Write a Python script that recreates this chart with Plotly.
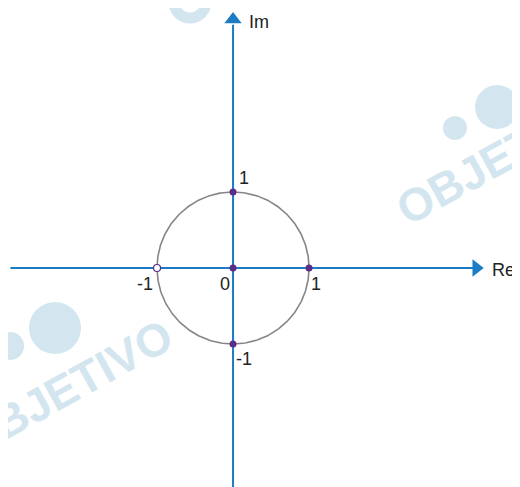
import base64
import numpy as np
import plotly.graph_objects as go

# Data
filled_re = [0, 1, 0, 0]
filled_im = [0, 0, 1, -1]
hollow_re = [-1]
hollow_im = [0]
circle_radius = 1
label_texts = ["1", "0", "1", "-1", "-1"]
label_re = [0, 0, 1, -1, 0]
label_im = [1, 0, 0, 0, -1]

AX = "#1b7cc3"
PUR = "#5a2d87"

x0, x1 = -2.961, 3.776
y0, y1 = -2.882, 3.421

fig = go.Figure()

# axes lines
fig.add_trace(go.Scatter(x=[-2.93, 3.2], y=[0, 0], mode="lines",
                         line=dict(color=AX, width=2), hoverinfo="skip", showlegend=False))
fig.add_trace(go.Scatter(x=[0, 0], y=[y0 - 0.1, 3.2], mode="lines",
                         line=dict(color=AX, width=2), hoverinfo="skip", showlegend=False))
# arrow heads
fig.add_trace(go.Scatter(x=[3.2], y=[0], mode="markers",
                         marker=dict(symbol="triangle-right", size=15, color=AX),
                         hoverinfo="skip", showlegend=False))
fig.add_trace(go.Scatter(x=[0], y=[3.27], mode="markers",
                         marker=dict(symbol="triangle-up", size=15, color=AX),
                         hoverinfo="skip", showlegend=False))

t = np.linspace(0, 2 * np.pi, 361)
fig.add_trace(go.Scatter(x=circle_radius * np.cos(t), y=circle_radius * np.sin(t),
                         mode="lines", line=dict(color="#858585", width=1.6),
                         hoverinfo="skip", showlegend=False))

fig.add_trace(go.Scatter(x=filled_re, y=filled_im, mode="markers",
                         marker=dict(color=PUR, size=7), showlegend=False, hoverinfo="skip"))
fig.add_trace(go.Scatter(x=hollow_re, y=hollow_im, mode="markers",
                         marker=dict(color="white", size=7, line=dict(color=PUR, width=1.2)),
                         showlegend=False, hoverinfo="skip"))

font = dict(family="Liberation Sans, Arial", size=18, color="#222")
offsets = [(11, -14), (-8, 16), (7, 16), (-12, 16), (11, 15)]
for txt, xr, yi, (dx, dy) in zip(label_texts, label_re, label_im, offsets):
    fig.add_annotation(x=xr, y=yi, text=txt, showarrow=False, xshift=dx, yshift=-dy, font=font)

fig.add_annotation(x=0, y=3.274, text="Im", showarrow=False, xanchor="left",
                   xshift=14, yshift=-3, font=dict(family="Liberation Sans, Arial", size=18, color="#222"))
fig.add_annotation(x=3.4, y=0, text="Re", showarrow=False, xanchor="left",
                   xshift=-1, yshift=-2, font=dict(family="Liberation Sans, Arial", size=18, color="#222"))

# watermark background (page px minus 8 offset)
W = "#d3e6f0"
def T(cx, cy, ang, size):
    cx -= 8; cy -= 8
    return (f'<text x="{cx}" y="{cy}" text-anchor="middle" dominant-baseline="central" '
            f'font-family="Liberation Sans, Arial" font-weight="bold" font-size="{size}" '
            f'fill="{W}" transform="rotate({ang} {cx} {cy})">OBJETIVO</text>')
def C(cx, cy, r):
    return f'<circle cx="{cx-8}" cy="{cy-8}" r="{r}" fill="{W}"/>'
svg = ('<svg xmlns="http://www.w3.org/2000/svg" width="512" height="479">'
       + T(67, 388, -29, 46) + T(502, 156, -29, 46)
       + C(55, 328, 26) + C(10, 346, 14) + C(497, 107, 22) + C(455, 128, 12)
       + f'<circle cx="{190-8}" cy="{2-8}" r="16" fill="none" stroke="{W}" stroke-width="11"/>'
       + '</svg>')
fig.add_layout_image(source="data:image/svg+xml;base64," + base64.b64encode(svg.encode()).decode(),
                     xref="paper", yref="paper", x=0, y=1, sizex=1, sizey=1,
                     xanchor="left", yanchor="top", layer="below", sizing="stretch")

fig.update_xaxes(range=[x0, x1], visible=False, fixedrange=True)
fig.update_yaxes(range=[y0, y1], visible=False, fixedrange=True)
fig.update_layout(width=512, height=479, margin=dict(l=0, r=0, t=0, b=0),
                  plot_bgcolor="rgba(0,0,0,0)", paper_bgcolor="white")
fig.write_html("out.html")
